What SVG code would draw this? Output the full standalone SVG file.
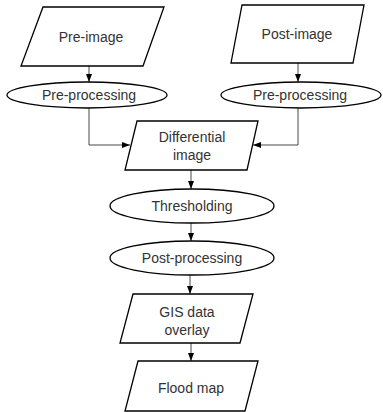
<svg xmlns="http://www.w3.org/2000/svg" width="383" height="412" viewBox="0 0 383 412">
<defs>
<marker id="ah" viewBox="0 0 8 6" refX="8" refY="3" markerWidth="8" markerHeight="6" markerUnits="userSpaceOnUse" orient="auto">
<path d="M0,0 L8,3 L0,6 z" fill="#000"/>
</marker>
<style>
.s{fill:#fff;stroke:#000;stroke-width:1.3}
.t{font-family:"Liberation Sans",Arial,sans-serif;font-size:14px;fill:#333;text-anchor:middle}
.c{fill:none;stroke:#333;stroke-width:0.9;marker-end:url(#ah)}
</style>
</defs>
<rect width="383" height="412" fill="#fff"/>
<g id="connectors">
<path class="c" d="M89,66 V82"/>
<path class="c" d="M298,63 V82"/>
<path class="c" d="M89,108 V145 H130"/>
<path class="c" d="M298,108 V145 H253"/>
<path class="c" d="M191,170 V189"/>
<path class="c" d="M191,223 V241"/>
<path class="c" d="M190,275 V294"/>
<path class="c" d="M191,343 V361"/>
</g>
<g id="pre-image">
<polygon class="s" points="43,7 164,7 143,66 21,66"/>
<text class="t" x="91" y="42">Pre-image</text>
</g>
<g id="post-image">
<polygon class="s" points="242,5 364,5 353,63 231,63"/>
<text class="t" x="297" y="39">Post-image</text>
</g>
<g id="preproc-left">
<ellipse class="s" cx="87" cy="95" rx="80" ry="13"/>
<text class="t" x="89" y="100">Pre-processing</text>
</g>
<g id="preproc-right">
<ellipse class="s" cx="301" cy="95" rx="80" ry="13"/>
<text class="t" x="300" y="100">Pre-processing</text>
</g>
<g id="differential">
<polygon class="s" points="137,121 258,121 247,170 125,170"/>
<text class="t" x="192" y="142">Differential</text>
<text class="t" x="192" y="160">image</text>
</g>
<g id="thresholding">
<ellipse class="s" cx="192" cy="206" rx="82" ry="17"/>
<text class="t" x="192" y="211">Thresholding</text>
</g>
<g id="postproc">
<ellipse class="s" cx="192" cy="258" rx="82" ry="17"/>
<text class="t" x="192" y="263">Post-processing</text>
</g>
<g id="gis">
<polygon class="s" points="133,294 253,294 240,343 120,343"/>
<text class="t" x="187" y="317">GIS data</text>
<text class="t" x="187" y="335">overlay</text>
</g>
<g id="flood">
<polygon class="s" points="138,361 258,361 245,411 125,411"/>
<text class="t" x="191" y="393">Flood map</text>
</g>
</svg>
